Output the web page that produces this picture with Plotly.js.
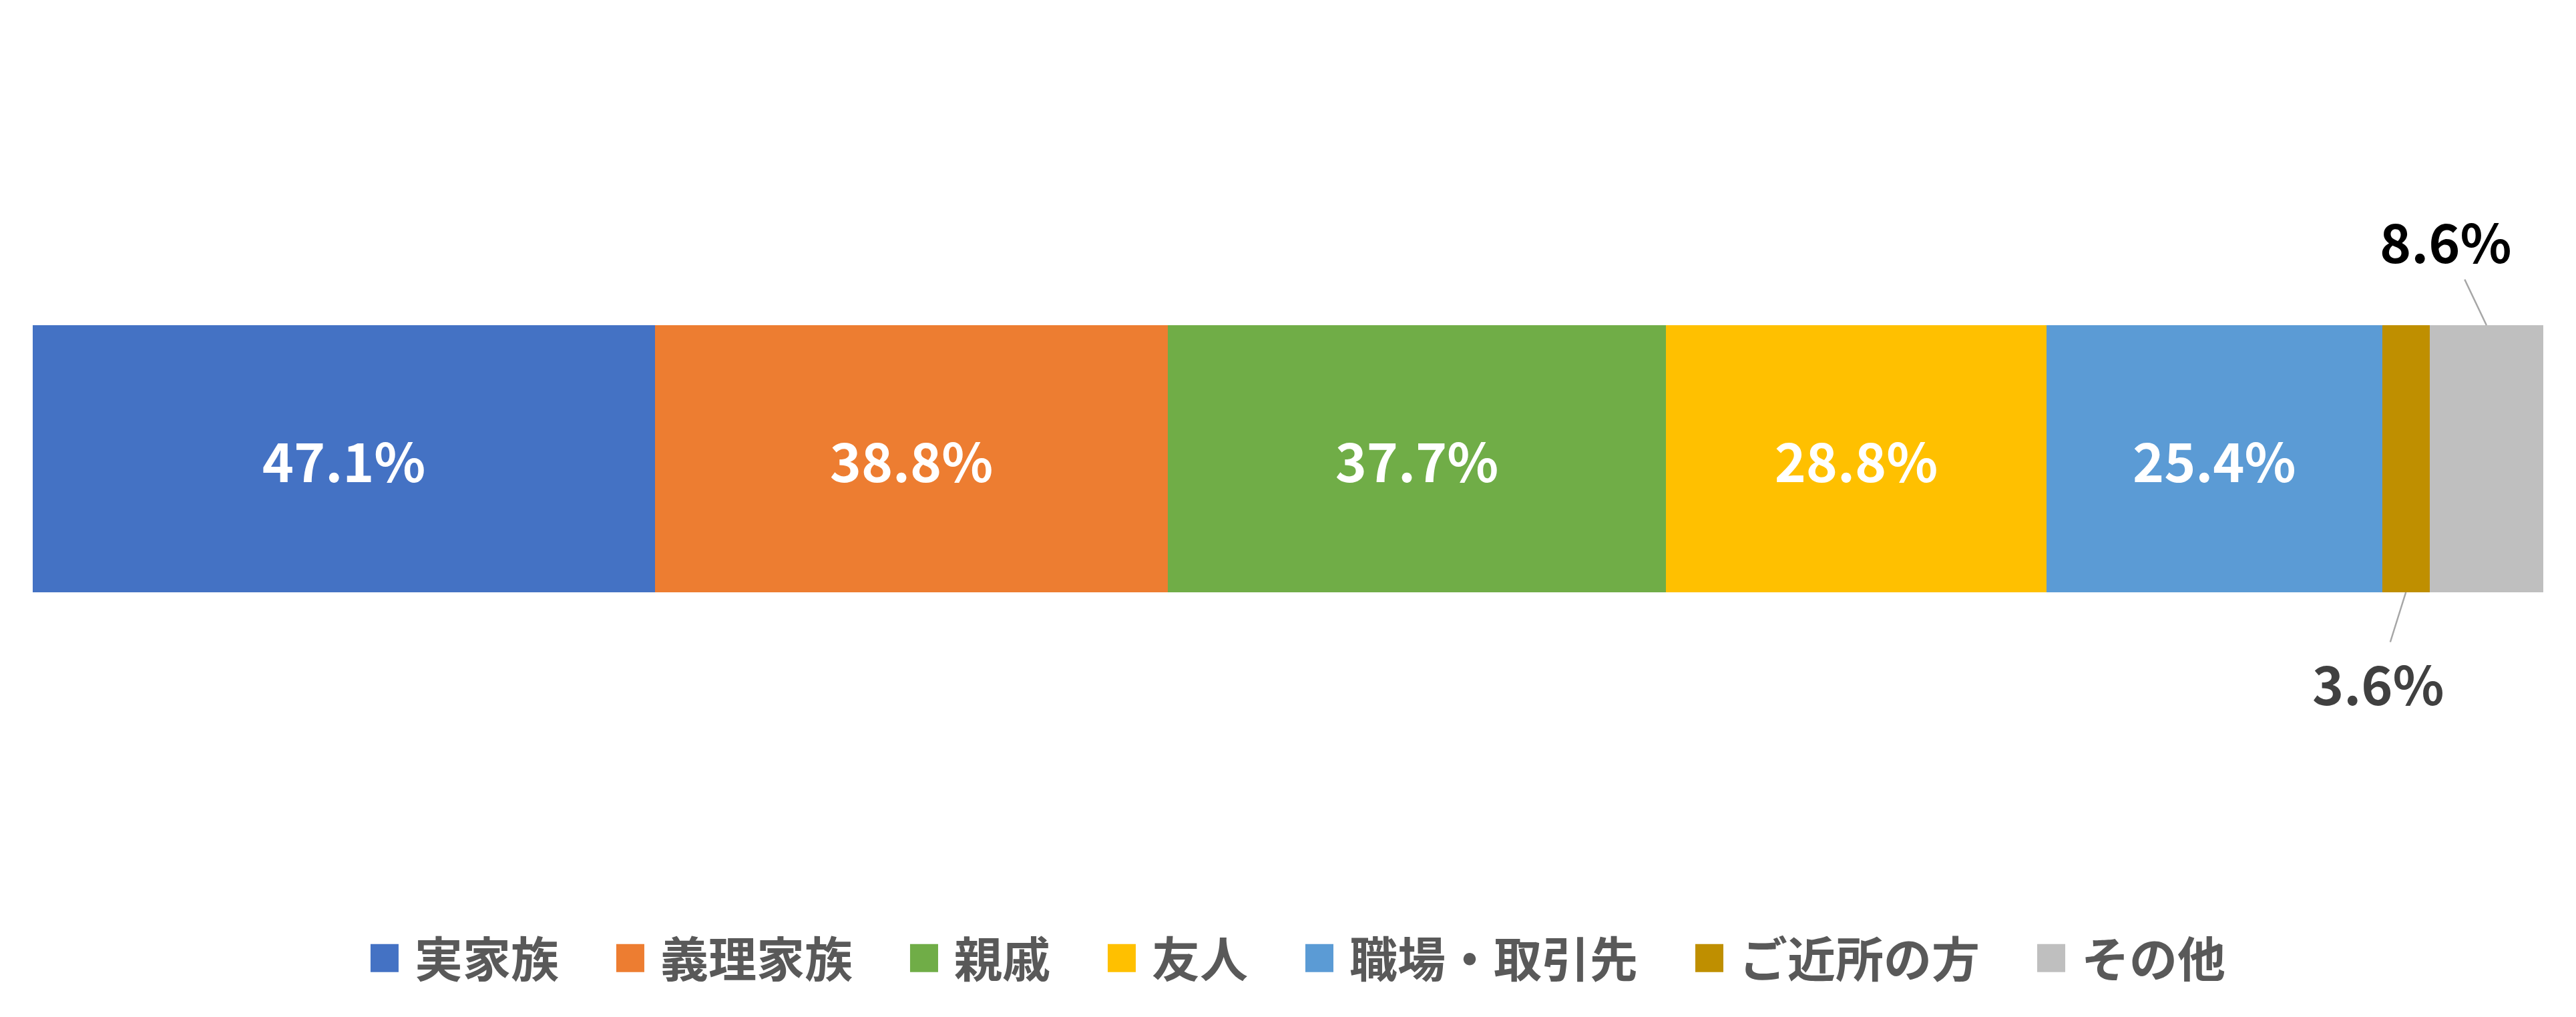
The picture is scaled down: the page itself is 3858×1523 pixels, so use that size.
<!DOCTYPE html>
<html><head><meta charset="utf-8">
<script src="https://cdn.plot.ly/plotly-3.0.1.min.js"></script>
<style>html,body{margin:0;padding:0;background:#fff;}</style>
</head><body>
<div id="chart" style="width:3858px;height:1523px;"></div>
<script>
const categories = ['実家族', '義理家族', '親戚', '友人', '職場・取引先', 'ご近所の方', 'その他'];
const values = [47.1, 38.8, 37.7, 28.8, 25.4, 3.6, 8.6];
const colors = ['#4472C4', '#ED7D31', '#70AD47', '#FFC000', '#5B9BD5', '#BF8F00', '#BFBFBF'];
const labels = values.map(v => v.toFixed(1) + '%');
const showInside = [true, true, true, true, true, false, false];
const rowName = ['全体'];

const FONT = '"Noto Sans CJK JP", "Noto Sans", sans-serif';
const total = values.reduce((a, b) => a + b, 0);

const traces = categories.map((c, i) => ({
  type: 'bar',
  orientation: 'h',
  name: c,
  x: [values[i]],
  y: rowName,
  marker: {color: colors[i], line: {width: 0}},
  text: [labels[i]],
  textposition: showInside[i] ? 'inside' : 'none',
  insidetextanchor: 'middle',
  textangle: 0,
  constraintext: 'none',
  textfont: {family: FONT, size: 80, color: '#FFFFFF', weight: 'bold'},
  hoverinfo: 'name+x'
}));

// cumulative midpoints for outside labels
const cum = [];
values.reduce((acc, v, i) => { cum[i] = acc + v / 2; return acc + v; }, 0);

const outside = [
  {i: 5, y: -0.5, ax: -42, ay: 134, color: '#404040'},
  {i: 6, y: 0.5, ax: -61, ay: -128, color: '#000000'}
];
const annotations = outside.map(o => ({
  x: cum[o.i], y: o.y, xref: 'x', yref: 'y',
  text: labels[o.i],
  showarrow: true, arrowhead: 0, arrowwidth: 2.5, arrowcolor: '#A6A6A6',
  ax: o.ax, ay: o.ay, standoff: 0,
  font: {family: FONT, size: 80, color: o.color, weight: 'bold'}
}));

const layout = {
  width: 3858, height: 1523,
  margin: {l: 49, r: 49, t: 287, b: 436},
  paper_bgcolor: '#FFFFFF', plot_bgcolor: '#FFFFFF',
  barmode: 'stack', bargap: 0,
  showlegend: true,
  xaxis: {range: [0, total], visible: false, fixedrange: true},
  yaxis: {range: [-1, 1], visible: false, fixedrange: true},
  legend: {
    orientation: 'h', traceorder: 'normal',
    x: 0.494, xanchor: 'center', y: -0.435, yanchor: 'middle',
    itemwidth: 137,
    font: {family: FONT, size: 72, color: '#595959', weight: 'bold'},
    bgcolor: 'rgba(0,0,0,0)'
  },
  annotations: annotations
};

const SYM = 42, GAP = 24;
function enlargeLegendSymbols(gd) {
  gd.querySelectorAll('.legend .traces').forEach(tr => {
    const path = tr.querySelector('.legendpoints path');
    const text = tr.querySelector('text.legendtext');
    if (!path || !text) return;
    if (path.dataset.orig === undefined) path.dataset.orig = path.getAttribute('transform') || '';
    path.setAttribute('transform', path.dataset.orig);
    const pr = path.getBoundingClientRect();
    const trc = text.getBoundingClientRect();
    const cx = (pr.left + pr.right) / 2;
    const target = trc.left - GAP - SYM / 2;
    const s = SYM / pr.width;
    path.setAttribute('transform', path.dataset.orig + ' translate(' + (target - cx) + ',0) scale(' + s + ')');
  });
}

Plotly.newPlot('chart', traces, layout, {displayModeBar: false, staticPlot: true}).then(gd => {
  enlargeLegendSymbols(gd);
});
</script>
</body></html>
